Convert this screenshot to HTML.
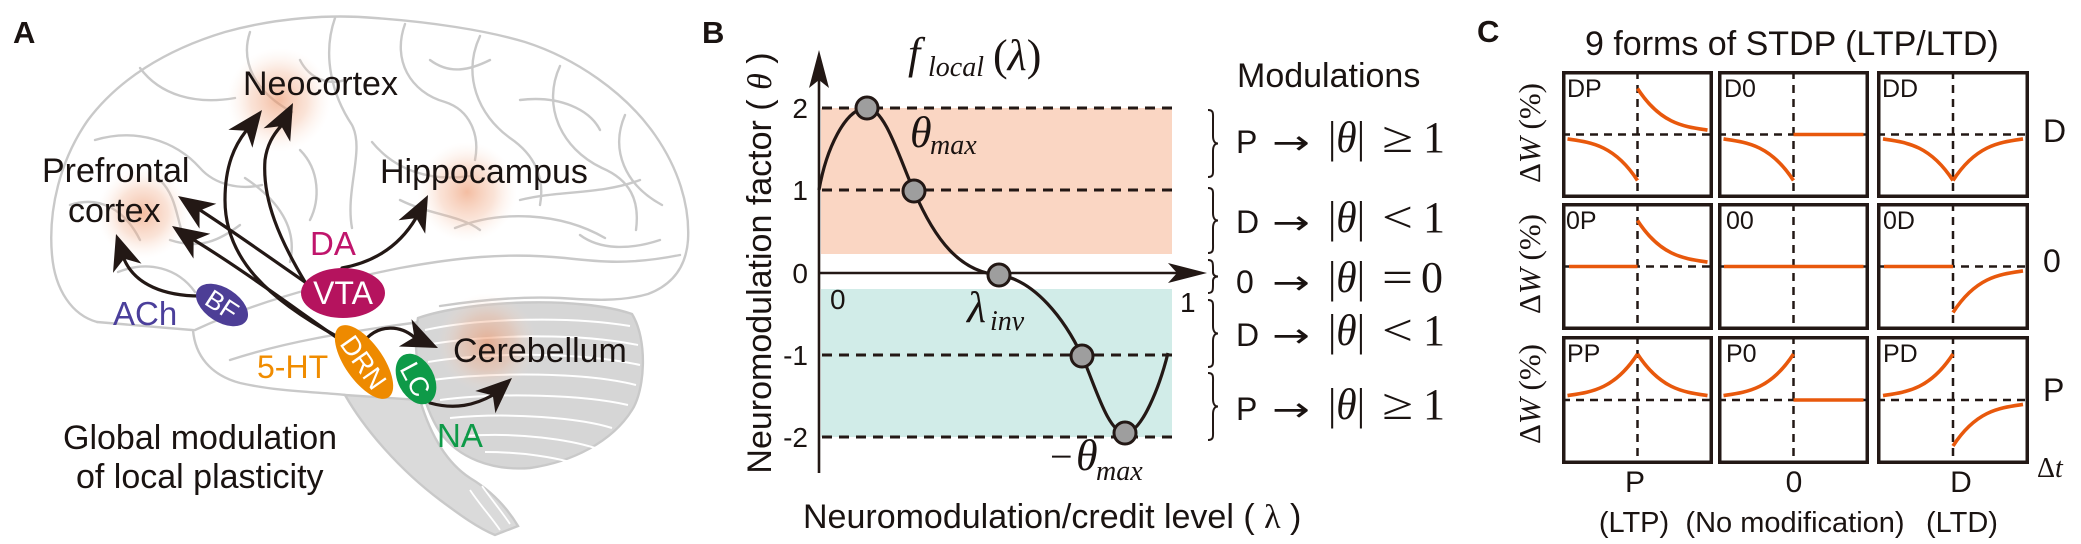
<!DOCTYPE html>
<html><head><meta charset="utf-8">
<style>
html,body{margin:0;padding:0;background:#fff;}
svg{display:block;}
.s{font-family:"Liberation Sans",Arial,sans-serif;}
.m{font-family:"Liberation Serif","DejaVu Serif",serif;}
.d{font-family:"DejaVu Sans",sans-serif;}
.i{font-style:italic;}
</style></head>
<body>
<svg width="2081" height="544" viewBox="0 0 2081 544" xmlns="http://www.w3.org/2000/svg">
<defs>
<radialGradient id="gl">
<stop offset="0" stop-color="#ec9468" stop-opacity="0.62"/>
<stop offset="0.55" stop-color="#f2b08e" stop-opacity="0.35"/>
<stop offset="1" stop-color="#fbe2d4" stop-opacity="0"/>
</radialGradient>
</defs>
<rect width="2081" height="544" fill="#fff"/>

<!-- ================= PANEL A ================= -->
<g fill="none" stroke="#c9c9c9" stroke-width="2.4" stroke-linecap="round">
<path d="M97,322 C72,315 55,290 52,255 C48,210 60,160 88,120 C118,80 165,50 225,32 C275,18 330,14 375,18 C430,22 485,30 525,42 C575,58 625,92 655,135 C678,168 690,205 688,240 C686,268 672,285 648,294 C620,302 590,300 560,298 C520,296 480,300 440,306"/>
<path d="M193,330 C195,355 210,375 240,383 C280,392 320,392 345,395"/>
<path d="M140,68 C160,95 195,105 235,98"/>
<path d="M95,140 C135,128 175,140 200,168 C215,185 240,190 262,185"/>
<path d="M70,205 C100,195 125,210 140,240"/>
<path d="M250,32 C240,62 255,92 292,112"/>
<path d="M335,18 C322,55 332,95 352,125 C365,150 345,190 352,228"/>
<path d="M405,24 C392,60 410,92 445,102 C470,110 480,135 475,160"/>
<path d="M480,36 C462,75 478,115 510,138 C535,155 545,178 540,205"/>
<path d="M560,66 C542,105 560,148 602,168 C630,180 640,200 636,230"/>
<path d="M625,115 C610,150 625,185 662,205"/>
<path d="M195,330 C255,302 330,282 400,268 C455,258 505,252 565,258 C600,262 630,265 680,255"/>
<path d="M230,360 C285,342 345,332 420,322"/>
<path d="M455,228 C500,210 560,212 605,238"/>
<path d="M372,142 C395,170 430,182 470,176"/>
<path d="M245,178 C278,200 298,228 290,262"/>
<path d="M118,272 C148,260 178,268 195,292"/>
<path d="M97,322 L192,330"/>
<path d="M300,60 C310,80 330,85 345,80"/>
<path d="M430,60 C450,75 470,70 490,60"/>
<path d="M520,100 C560,95 590,110 600,130"/>
<path d="M170,240 C200,250 220,240 240,225"/>
<path d="M520,200 C560,190 600,195 640,180"/>
<path d="M300,150 C320,170 320,200 310,220"/>
<path d="M400,200 C430,215 460,215 480,230"/>
<path d="M160,180 C180,200 175,225 190,250"/>
<path d="M580,235 C600,250 630,250 660,240"/>
</g>
<path d="M345,395 C365,430 400,470 440,500 C460,515 478,528 495,535 L518,526 C506,506 490,490 470,478 C450,465 432,440 420,400 Z" fill="#dadada" stroke="#c9c9c9" stroke-width="2.4"/>
<g fill="none" stroke="#fff" stroke-width="1.8">
<path d="M470,490 C480,505 492,518 500,530"/>
<path d="M482,486 C492,500 502,512 510,524"/>
</g>
<path d="M418,318 C470,300 580,296 632,314 C648,340 645,390 632,410 C612,442 572,462 530,468 C492,471 458,458 440,432 C420,402 412,350 418,318 Z" fill="#d6d6d6" stroke="#c9c9c9" stroke-width="2.4"/>
<g fill="none" stroke="#fff" stroke-width="2">
<path d="M425,330 C480,318 570,316 630,326"/>
<path d="M425,345 C485,335 575,332 638,345"/>
<path d="M428,362 C490,352 580,352 640,365"/>
<path d="M432,380 C495,372 585,372 636,385"/>
<path d="M440,400 C500,392 585,395 628,405"/>
<path d="M450,418 C510,412 580,418 612,428"/>
<path d="M465,436 C520,432 570,440 595,448"/>
<path d="M485,452 C525,452 555,458 570,462"/>
</g>

<circle cx="279" cy="100" r="52" fill="url(#gl)"/>
<circle cx="143" cy="213" r="46" fill="url(#gl)"/>
<circle cx="467" cy="192" r="50" fill="url(#gl)"/>
<circle cx="487" cy="343" r="50" fill="url(#gl)"/>

<g fill="none" stroke="#231815" stroke-width="3.2" stroke-linecap="round">
<path d="M200,296 C165,296 135,285 124,259"/>
<path d="M336,337 C290,305 240,268 194,240"/>
<path d="M305,282 C270,258 240,236 200,210"/>
<path d="M338,337 C270,300 225,260 225,200 C225,165 235,145 246,131"/>
<path d="M305,282 C280,240 262,200 265,160 C267,145 273,135 281,126"/>
<path d="M342,268 C375,262 400,245 416,218"/>
<path d="M367,338 C380,325 400,325 414,337"/>
<path d="M430,403 C455,410 475,405 493,395"/>
</g>
<g fill="#231815">
<polygon points="116,234 141.5,263.6 124.1,258.7 113,272.9"/>
<polygon points="172,226 210.3,233.7 193.6,240.6 193.5,258.6"/>
<polygon points="178,196 216.3,203.7 199.6,210.6 199.5,228.6"/>
<polygon points="262,110 252.4,147.8 246.4,130.8 228.4,129.8"/>
<polygon points="293,103 290.2,141.8 281.3,126.1 263.5,128.3"/>
<polygon points="428,195 425.2,233.8 416.3,218.1 398.5,220.3"/>
<polygon points="438,348 398.9,346.5 414.3,337.1 411.5,319.2"/>
<polygon points="512,378 495.4,413.2 492.8,395.4 475.3,391"/>
</g>

<ellipse cx="343" cy="293" rx="42" ry="25" fill="#b5135e"/>
<text x="343" y="304" class="s" font-size="32" fill="#fff" text-anchor="middle">VTA</text>
<g transform="translate(222,305) rotate(33)">
<ellipse cx="0" cy="0" rx="29" ry="17" fill="#4d3e96"/>
<text x="0" y="9" class="s" font-size="26" fill="#fff" text-anchor="middle">BF</text>
</g>
<g transform="translate(364,362) rotate(55)">
<ellipse cx="0" cy="0" rx="43" ry="19" fill="#ee8a00"/>
<text x="0" y="10" class="s" font-size="27" fill="#fff" text-anchor="middle">DRN</text>
</g>
<g transform="translate(416,379) rotate(62)">
<ellipse cx="0" cy="0" rx="27" ry="18" fill="#0e9a48"/>
<text x="0" y="10" class="s" font-size="27" fill="#fff" text-anchor="middle">LC</text>
</g>

<g class="s" font-size="34" fill="#1a1311">
<text x="13" y="43" font-size="31" font-weight="bold">A</text>
<text x="243" y="95">Neocortex</text>
<text x="42" y="182">Prefrontal</text>
<text x="68" y="222">cortex</text>
<text x="380" y="183">Hippocampus</text>
<text x="453" y="362">Cerebellum</text>
<text x="63" y="449">Global modulation</text>
<text x="76" y="488">of local plasticity</text>
</g>
<g class="s" font-size="33">
<text x="310" y="255" fill="#c0156c">DA</text>
<text x="113" y="325" fill="#4b3f9b">ACh</text>
<text x="257" y="378" fill="#f08c00" font-size="32">5-HT</text>
<text x="437" y="447" fill="#0e9a48">NA</text>
</g>

<!-- ================= PANEL B ================= -->
<text x="702" y="43" class="s" font-size="31" font-weight="bold" fill="#1a1311">B</text>
<rect x="821" y="108" width="351" height="146" fill="#fad6c3"/>
<rect x="821" y="289" width="351" height="148" fill="#d1ece8"/>
<g stroke="#231815" stroke-width="3" stroke-dasharray="10 7" fill="none">
<line x1="822" y1="108" x2="1172" y2="108"/>
<line x1="822" y1="190" x2="1172" y2="190"/>
<line x1="822" y1="355" x2="1172" y2="355"/>
<line x1="822" y1="437" x2="1172" y2="437"/>
</g>
<g stroke="#231815" stroke-width="2.6" fill="none">
<line x1="819" y1="473" x2="819" y2="70"/>
<line x1="819" y1="273" x2="1185" y2="273"/>
</g>
<g fill="#231815">
<path d="M819,50 L829,88 L819,80 L809,88 Z"/>
<path d="M1207,273 L1168,263 L1177,273 L1168,283 Z"/>
</g>
<path d="M819,190 C826,150 845,108 867,108 C885,108 900,160 914,191 C935,240 960,272 999,275 C1035,280 1065,320 1082,356 C1095,385 1108,433 1125,433 C1142,433 1160,385 1168,353" fill="none" stroke="#231815" stroke-width="3.2"/>
<g fill="#9e9e9e" stroke="#231815" stroke-width="3">
<circle cx="867" cy="108" r="11"/>
<circle cx="914" cy="191" r="11"/>
<circle cx="999" cy="275" r="11"/>
<circle cx="1082" cy="356" r="11"/>
<circle cx="1125" cy="433" r="11"/>
</g>
<g class="s" font-size="28" fill="#1a1311" text-anchor="end">
<text x="808" y="118">2</text>
<text x="808" y="200">1</text>
<text x="808" y="283">0</text>
<text x="808" y="365">-1</text>
<text x="808" y="447">-2</text>
</g>
<g class="s" font-size="28" fill="#1a1311">
<text x="830" y="309">0</text>
<text x="1180" y="312">1</text>
</g>
<text transform="translate(771,263) rotate(-90)" class="s" font-size="34" fill="#1a1311" text-anchor="middle">Neuromodulation factor ( <tspan class="m i">θ</tspan> )</text>
<text x="803" y="528" class="s" font-size="34" fill="#1a1311">Neuromodulation/credit level ( <tspan class="m">λ</tspan> )</text>
<g class="m" fill="#1a1311">
<text x="908" y="68" font-size="44" class="m i">f</text>
<text x="928" y="76" font-size="28" class="m i">local</text>
<text x="993" y="70" font-size="44">(<tspan class="i">λ</tspan>)</text>
<text x="910" y="147" font-size="44" class="m i">θ</text>
<text x="930" y="154" font-size="28" class="m i">max</text>
<text x="967" y="322" font-size="44" class="m i">λ</text>
<text x="990" y="330" font-size="28" class="m i">inv</text>
<text x="1050" y="470" font-size="40">−</text>
<text x="1076" y="470" font-size="44" class="m i">θ</text>
<text x="1096" y="480" font-size="28" class="m i">max</text>
</g>

<!-- modulations -->
<text x="1237" y="87" class="s" font-size="34" fill="#1a1311">Modulations</text>
<g fill="none" stroke="#231815" stroke-width="2">
<path d="M1208,110 C1214,110 1213,114 1213,120 L1213,136 C1213,141 1215,143.5 1218,143.5 C1215,143.5 1213,146 1213,151 L1213,167 C1213,173 1214,177 1208,177"/>
<path d="M1208,188 C1214,188 1213,192 1213,198 L1213,213 C1213,218 1215,220.5 1218,220.5 C1215,220.5 1213,223 1213,228 L1213,243 C1213,249 1214,253 1208,253"/>
<path d="M1208,260 C1213,260 1213,263 1213,268 L1213,272 C1213,275 1215,276.5 1218,276.5 C1215,276.5 1213,278 1213,281 L1213,285 C1213,290 1213,293 1208,293"/>
<path d="M1208,300 C1214,300 1213,304 1213,310 L1213,326 C1213,331 1215,333.5 1218,333.5 C1215,333.5 1213,336 1213,341 L1213,357 C1213,363 1214,367 1208,367"/>
<path d="M1208,373 C1214,373 1213,377 1213,383 L1213,399 C1213,404 1215,406.5 1218,406.5 C1215,406.5 1213,409 1213,414 L1213,430 C1213,436 1214,440 1208,440"/>
</g>
<g fill="#1a1311">
<g class="s" font-size="32">
<text x="1236" y="153">P</text>
<text x="1236" y="233">D</text>
<text x="1236" y="293">0</text>
<text x="1236" y="346">D</text>
<text x="1236" y="420">P</text>
</g>
<g class="d" font-size="34">
<text transform="translate(1272,154) scale(1.33,1)">→</text>
<text transform="translate(1272,234) scale(1.33,1)">→</text>
<text transform="translate(1272,294) scale(1.33,1)">→</text>
<text transform="translate(1272,347) scale(1.33,1)">→</text>
<text transform="translate(1272,421) scale(1.33,1)">→</text>
</g>
<g class="m" font-size="44">
<text x="1328" y="152" textLength="37" lengthAdjust="spacingAndGlyphs">|<tspan class="i">θ</tspan>|</text>
<text x="1328" y="232" textLength="37" lengthAdjust="spacingAndGlyphs">|<tspan class="i">θ</tspan>|</text>
<text x="1328" y="292" textLength="37" lengthAdjust="spacingAndGlyphs">|<tspan class="i">θ</tspan>|</text>
<text x="1328" y="345" textLength="37" lengthAdjust="spacingAndGlyphs">|<tspan class="i">θ</tspan>|</text>
<text x="1328" y="419" textLength="37" lengthAdjust="spacingAndGlyphs">|<tspan class="i">θ</tspan>|</text>
<text x="1382" y="152" textLength="31" lengthAdjust="spacingAndGlyphs">≥</text>
<text x="1382" y="232" textLength="31" lengthAdjust="spacingAndGlyphs">&lt;</text>
<text x="1382" y="292" textLength="31" lengthAdjust="spacingAndGlyphs">=</text>
<text x="1382" y="345" textLength="31" lengthAdjust="spacingAndGlyphs">&lt;</text>
<text x="1382" y="419" textLength="31" lengthAdjust="spacingAndGlyphs">≥</text>
<text x="1423" y="152">1</text>
<text x="1423" y="232">1</text>
<text x="1421" y="292">0</text>
<text x="1423" y="345">1</text>
<text x="1423" y="419">1</text>
</g>
</g>

<!-- ================= PANEL C ================= -->
<text x="1477" y="42" class="s" font-size="31" font-weight="bold" fill="#1a1311">C</text>
<text x="1585" y="55" class="s" font-size="34" fill="#1a1311">9 forms of STDP (LTP/LTD)</text>
<g class="m" font-size="31" fill="#1a1311" text-anchor="middle">
<text transform="translate(1540,133) rotate(-90)">Δ<tspan class="i">W</tspan> (%)</text>
<text transform="translate(1540,264) rotate(-90)">Δ<tspan class="i">W</tspan> (%)</text>
<text transform="translate(1540,394) rotate(-90)">Δ<tspan class="i">W</tspan> (%)</text>
</g>
<g stroke="#231815" stroke-width="2.5" stroke-dasharray="8 6" fill="none">
<line x1="1562" y1="134.5" x2="1713" y2="134.5"/>
<line x1="1718" y1="134.5" x2="1869" y2="134.5"/>
<line x1="1877" y1="134.5" x2="2029" y2="134.5"/>
<line x1="1562" y1="266.5" x2="1713" y2="266.5"/>
<line x1="1718" y1="266.5" x2="1869" y2="266.5"/>
<line x1="1877" y1="266.5" x2="2029" y2="266.5"/>
<line x1="1562" y1="400" x2="1713" y2="400"/>
<line x1="1718" y1="400" x2="1869" y2="400"/>
<line x1="1877" y1="400" x2="2029" y2="400"/>
<line x1="1637.5" y1="71" x2="1637.5" y2="198"/>
<line x1="1793.5" y1="71" x2="1793.5" y2="198"/>
<line x1="1953" y1="71" x2="1953" y2="198"/>
<line x1="1637.5" y1="203" x2="1637.5" y2="330"/>
<line x1="1793.5" y1="203" x2="1793.5" y2="330"/>
<line x1="1953" y1="203" x2="1953" y2="330"/>
<line x1="1637.5" y1="336" x2="1637.5" y2="464"/>
<line x1="1793.5" y1="336" x2="1793.5" y2="464"/>
<line x1="1953" y1="336" x2="1953" y2="464"/>
</g>
<g stroke="#e8580c" stroke-width="3.6" fill="none" stroke-linecap="butt">
<path d="M1637.5,180.5 C1614.17,144.7 1590.83,142.43 1567.5,138.96"/>
<path d="M1637.5,88.5 C1660.83,124.3 1684.17,126.57 1707.5,130.04"/>
<path d="M1793.5,180.5 C1770.17,144.7 1746.83,142.43 1723.5,138.96"/>
<path d="M1793.5,134.5 L1863.5,134.5"/>
<path d="M1953,180.5 C1929.67,144.7 1906.33,142.43 1883,138.96"/>
<path d="M1953,180.5 C1976.33,144.7 1999.67,142.43 2023,138.96"/>
<path d="M1569,266.5 L1637.5,266.5"/>
<path d="M1637.5,220.5 C1660.83,256.3 1684.17,258.57 1707.5,262.04"/>
<path d="M1724,266.5 L1863.5,266.5"/>
<path d="M1884,266.5 L1953,266.5"/>
<path d="M1953,312.5 C1976.33,276.7 1999.67,274.43 2023,270.96"/>
<path d="M1637.5,354 C1614.17,389.8 1590.83,392.07 1567.5,395.54"/>
<path d="M1637.5,354 C1660.83,389.8 1684.17,392.07 1707.5,395.54"/>
<path d="M1793.5,354 C1770.17,389.8 1746.83,392.07 1723.5,395.54"/>
<path d="M1793.5,400 L1863.5,400"/>
<path d="M1953,354 C1929.67,389.8 1906.33,392.07 1883,395.54"/>
<path d="M1953,446 C1976.33,410.2 1999.67,407.93 2023,404.46"/>
</g>
<g fill="none" stroke="#231815" stroke-width="3.5">
<rect x="1563.75" y="72.75" width="147.5" height="123.5"/>
<rect x="1719.75" y="72.75" width="147.5" height="123.5"/>
<rect x="1878.75" y="72.75" width="148.5" height="123.5"/>
<rect x="1563.75" y="204.75" width="147.5" height="123.5"/>
<rect x="1719.75" y="204.75" width="147.5" height="123.5"/>
<rect x="1878.75" y="204.75" width="148.5" height="123.5"/>
<rect x="1563.75" y="337.75" width="147.5" height="124.5"/>
<rect x="1719.75" y="337.75" width="147.5" height="124.5"/>
<rect x="1878.75" y="337.75" width="148.5" height="124.5"/>
</g>
<g class="s" font-size="25" fill="#1a1311">
<text x="1567" y="97">DP</text>
<text x="1724" y="97">D0</text>
<text x="1882" y="97">DD</text>
<text x="1566" y="229">0P</text>
<text x="1726" y="229">00</text>
<text x="1883" y="229">0D</text>
<text x="1567" y="362">PP</text>
<text x="1726" y="362">P0</text>
<text x="1883" y="362">PD</text>
</g>
<g class="s" font-size="32" fill="#1a1311">
<text x="2043" y="142">D</text>
<text x="2043" y="272">0</text>
<text x="2043" y="401">P</text>
</g>
<g class="s" font-size="30" fill="#1a1311" text-anchor="middle">
<text x="1635" y="492">P</text>
<text x="1794" y="492">0</text>
<text x="1961" y="492">D</text>
</g>
<text x="2037" y="477" class="m" font-size="28" fill="#1a1311">Δ<tspan class="i">t</tspan></text>
<g class="s" font-size="29" fill="#1a1311" text-anchor="middle">
<text x="1634" y="532">(LTP)</text>
<text x="1795" y="532">(No modification)</text>
<text x="1962" y="532">(LTD)</text>
</g>
</svg>
</body></html>
